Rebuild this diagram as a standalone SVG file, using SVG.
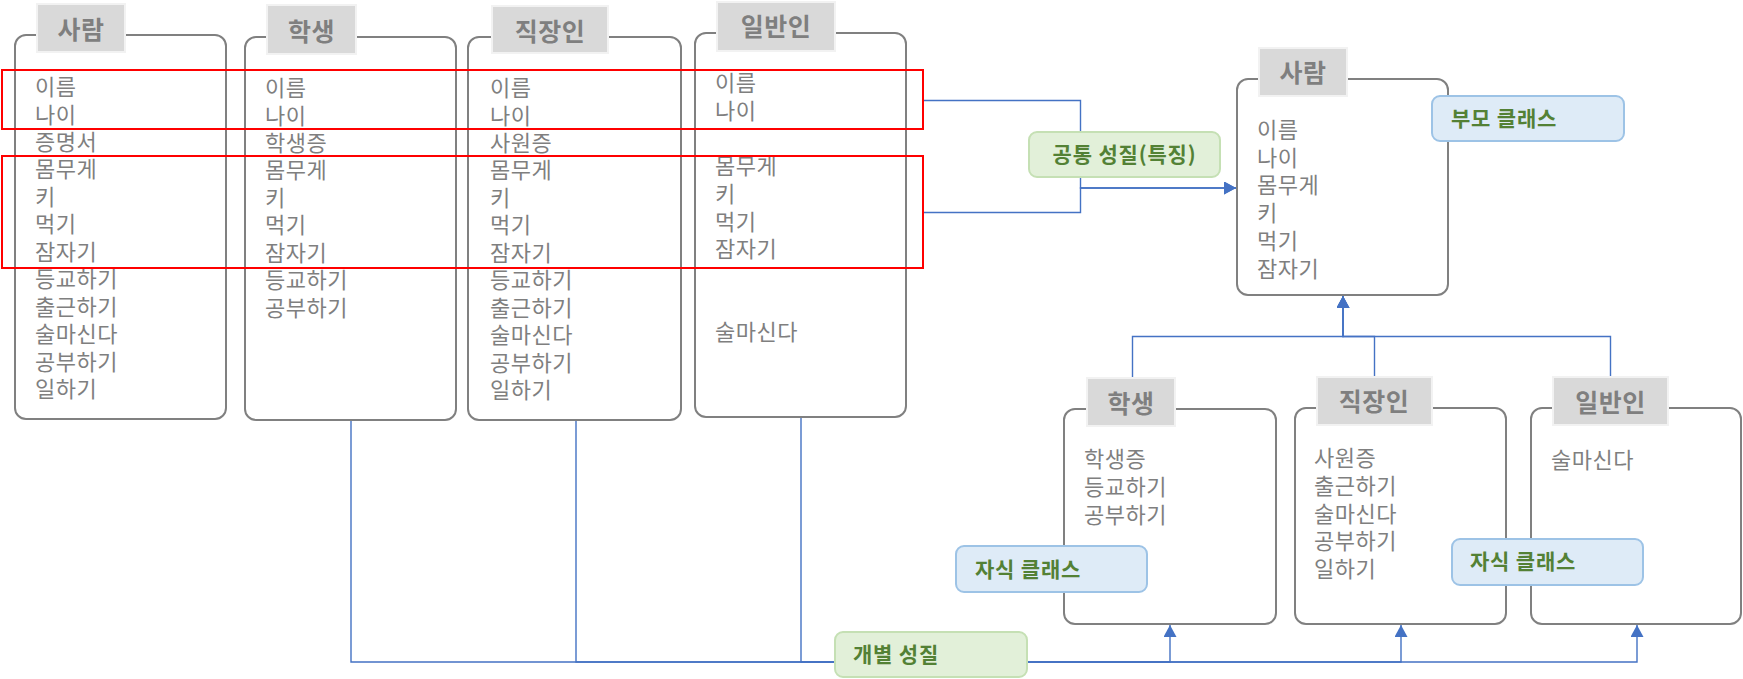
<svg xmlns="http://www.w3.org/2000/svg" width="1743" height="679" viewBox="0 0 1743 679">
<defs>
<style>
.box{fill:#fff;stroke:#808080;stroke-width:2}
.hd{fill:#d9d9d9;stroke:#f2f2f2;stroke-width:2}
.ht{font-family:"Noto Sans CJK KR","Noto Sans",sans-serif;font-size:25px;font-weight:bold;fill:#7f7f7f;text-anchor:middle;letter-spacing:0.5px}
.bt{font-family:"Noto Sans CJK KR","Noto Sans",sans-serif;font-size:22px;fill:#7f7f7f;letter-spacing:0.5px}
.con{fill:none;stroke:#4472c4;stroke-width:1.4}
.red{fill:none;stroke:#ff0000;stroke-width:2}
.lg{fill:#e2f0d9;stroke:#c5e0b4;stroke-width:2}
.lb{fill:#deebf7;stroke:#9dc3e6;stroke-width:2}
.lt{font-family:"Noto Sans CJK KR","Noto Sans",sans-serif;font-size:21px;font-weight:bold;fill:#538135;letter-spacing:0.8px}
</style>
<marker id="arr" markerUnits="userSpaceOnUse" markerWidth="13" markerHeight="13" refX="12" refY="6.5" orient="auto">
<path d="M0,0 L12,6.5 L0,13 z" fill="#4472c4"/>
</marker>
</defs>
<rect width="1743" height="679" fill="#fff"/>

<g id="connectors">
<path class="con" d="M923,100.5 H1080.5 V188 H1236" marker-end="url(#arr)"/>
<path class="con" d="M923,212.5 H1080.5 V188 H1236" marker-end="url(#arr)"/>
<path class="con" d="M1132.5,377 V336.5 H1343 V296" marker-end="url(#arr)"/>
<path class="con" d="M1374.5,376 V336.5 H1343 V296" marker-end="url(#arr)"/>
<path class="con" d="M1610.5,376 V336.5 H1343 V296" marker-end="url(#arr)"/>
<path class="con" d="M351,420 V662 H1170 V625" marker-end="url(#arr)"/>
<path class="con" d="M576,420 V662 H1401 V625" marker-end="url(#arr)"/>
<path class="con" d="M801,417 V662 H1637 V625" marker-end="url(#arr)"/>
</g>

<g id="person">
<rect class="box" x="15" y="35" width="211" height="384" rx="11"/>
<rect class="hd" x="37" y="4" width="88" height="48"/>
<text class="ht" x="81" y="39">사람</text>
<text class="bt" x="35" y="95">이름</text>
<text class="bt" x="35" y="122.5">나이</text>
<text class="bt" x="35" y="150">증명서</text>
<text class="bt" x="35" y="177.3">몸무게</text>
<text class="bt" x="35" y="204.8">키</text>
<text class="bt" x="35" y="232.2">먹기</text>
<text class="bt" x="35" y="259.7">잠자기</text>
<text class="bt" x="35" y="287.1">등교하기</text>
<text class="bt" x="35" y="314.6">출근하기</text>
<text class="bt" x="35" y="342">술마신다</text>
<text class="bt" x="35" y="369.5">공부하기</text>
<text class="bt" x="35" y="397">일하기</text>
</g>

<g id="student">
<rect class="box" x="245" y="37" width="211" height="383" rx="11"/>
<rect class="hd" x="267" y="5" width="89" height="49"/>
<text class="ht" x="311.5" y="41">학생</text>
<text class="bt" x="265" y="96">이름</text>
<text class="bt" x="265" y="123.5">나이</text>
<text class="bt" x="265" y="151">학생증</text>
<text class="bt" x="265" y="178.3">몸무게</text>
<text class="bt" x="265" y="205.8">키</text>
<text class="bt" x="265" y="233.2">먹기</text>
<text class="bt" x="265" y="260.7">잠자기</text>
<text class="bt" x="265" y="288.1">등교하기</text>
<text class="bt" x="265" y="315.6">공부하기</text>
</g>

<g id="worker">
<rect class="box" x="468" y="37" width="213" height="383" rx="11"/>
<rect class="hd" x="492" y="6" width="116" height="47"/>
<text class="ht" x="550" y="41">직장인</text>
<text class="bt" x="490" y="96">이름</text>
<text class="bt" x="490" y="123.5">나이</text>
<text class="bt" x="490" y="151">사원증</text>
<text class="bt" x="490" y="178.3">몸무게</text>
<text class="bt" x="490" y="205.8">키</text>
<text class="bt" x="490" y="233.2">먹기</text>
<text class="bt" x="490" y="260.7">잠자기</text>
<text class="bt" x="490" y="288.1">등교하기</text>
<text class="bt" x="490" y="315.6">출근하기</text>
<text class="bt" x="490" y="343">술마신다</text>
<text class="bt" x="490" y="370.5">공부하기</text>
<text class="bt" x="490" y="398">일하기</text>
</g>

<g id="citizen">
<rect class="box" x="695" y="33" width="211" height="384" rx="11"/>
<rect class="hd" x="717" y="2" width="118" height="49"/>
<text class="ht" x="776" y="36">일반인</text>
<text class="bt" x="715" y="91">이름</text>
<text class="bt" x="715" y="119">나이</text>
<text class="bt" x="715" y="174">몸무게</text>
<text class="bt" x="715" y="202">키</text>
<text class="bt" x="715" y="229.5">먹기</text>
<text class="bt" x="715" y="257">잠자기</text>
<text class="bt" x="715" y="340">술마신다</text>
</g>

<g id="parent-person">
<rect class="box" x="1237" y="79" width="211" height="216" rx="11"/>
<rect class="hd" x="1259" y="48" width="88" height="48"/>
<text class="ht" x="1303" y="82">사람</text>
<text class="bt" x="1257" y="138">이름</text>
<text class="bt" x="1257" y="165.7">나이</text>
<text class="bt" x="1257" y="193.4">몸무게</text>
<text class="bt" x="1257" y="221.1">키</text>
<text class="bt" x="1257" y="248.8">먹기</text>
<text class="bt" x="1257" y="276.5">잠자기</text>
</g>

<g id="child-student">
<rect class="box" x="1064" y="409" width="212" height="215" rx="11"/>
<rect class="hd" x="1087" y="378" width="88" height="48"/>
<text class="ht" x="1131" y="413">학생</text>
<text class="bt" x="1084" y="467">학생증</text>
<text class="bt" x="1084" y="494.8">등교하기</text>
<text class="bt" x="1084" y="522.6">공부하기</text>
</g>

<g id="child-worker">
<rect class="box" x="1295" y="408" width="211" height="216" rx="11"/>
<rect class="hd" x="1317" y="377" width="115" height="48"/>
<text class="ht" x="1374" y="411">직장인</text>
<text class="bt" x="1314" y="466">사원증</text>
<text class="bt" x="1314" y="493.8">출근하기</text>
<text class="bt" x="1314" y="521.6">술마신다</text>
<text class="bt" x="1314" y="549.4">공부하기</text>
<text class="bt" x="1314" y="577.2">일하기</text>
</g>

<g id="child-citizen">
<rect class="box" x="1531" y="408" width="210" height="216" rx="11"/>
<rect class="hd" x="1553" y="377" width="115" height="48"/>
<text class="ht" x="1610.5" y="412">일반인</text>
<text class="bt" x="1551" y="468">술마신다</text>
</g>

<g id="highlights">
<rect class="red" x="2" y="70" width="921" height="59"/>
<rect class="red" x="2" y="156" width="921" height="112"/>
</g>

<g id="label-common">
<rect class="lg" x="1029" y="132" width="191" height="45" rx="8"/>
<text class="lt" x="1124.5" y="162" text-anchor="middle">공통 성질(특징)</text>
</g>
<g id="label-parent">
<rect class="lb" x="1432" y="96" width="192" height="45" rx="8"/>
<text class="lt" x="1451" y="126">부모 클래스</text>
</g>
<g id="label-child1">
<rect class="lb" x="956" y="546" width="191" height="46" rx="8"/>
<text class="lt" x="975" y="577">자식 클래스</text>
</g>
<g id="label-child2">
<rect class="lb" x="1452" y="539" width="191" height="46" rx="8"/>
<text class="lt" x="1470" y="569">자식 클래스</text>
</g>
<g id="label-individual">
<rect class="lg" x="835" y="632" width="192" height="45" rx="8"/>
<text class="lt" x="853" y="662">개별 성질</text>
</g>
</svg>
